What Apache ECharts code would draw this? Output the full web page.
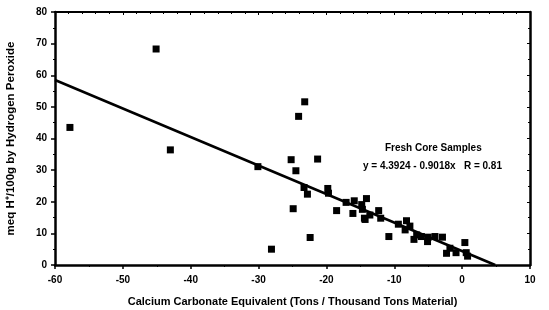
<!DOCTYPE html>
<html><head><meta charset="utf-8">
<script src="https://cdn.jsdelivr.net/npm/echarts@6/dist/echarts.min.js"></script>
<style>html,body{margin:0;padding:0;background:#fff}#c{width:549px;height:310px}</style>
</head><body><div id="c"></div>
<script>
// Sample points: [CaCO3 equivalent, meq H+/100g]
const xValues = [-57.8,-45.1,-43.0,-30.1,-28.1,-25.2,-24.9,-24.5,-24.1,-23.2,-23.3,-22.8,-22.4,-21.3,
  -19.8,-19.7,-18.5,-17.1,-16.1,-15.9,-14.8,-14.7,-14.1,-14.3,-14.4,-13.6,-12.3,-12.0,-10.8,-9.4,
  -8.2,-8.4,-7.7,-7.1,-6.7,-6.0,-5.1,-5.0,-4.0,-2.9,-2.3,-1.8,-0.9,0.4,0.6,0.8];
const yValues = [43.5,68.3,36.4,31.1,5.0,33.3,17.8,29.8,47.0,51.6,24.5,22.4,8.7,33.5,
  24.2,22.7,17.2,19.8,16.3,20.3,19.1,17.6,21.0,14.4,14.8,15.8,17.2,14.8,9.0,12.9,
  14.0,11.1,12.3,8.1,9.5,9.0,7.4,8.8,9.0,8.8,3.7,5.3,3.9,7.1,3.9,2.8];
const xTicks = [-60,-50,-40,-30,-20,-10,0,10];
const yTicks = [0,10,20,30,40,50,60,70,80];
const intercept = 4.3924, slope = -0.9018;
const fitLabel = 'y = 4.3924 - 0.9018x   R = 0.81';
const seriesName = 'Fresh Core Samples';

const pts = xValues.map((x,i)=>[x,yValues[i]]);
const xEnd = -intercept/slope;
const fit = [[-60, intercept + slope*-60],[xEnd, 0]];

const font = 'Liberation Sans, Arial, sans-serif';
const chart = echarts.init(document.getElementById('c'));
const mainLine = {show:true, onZero:false, lineStyle:{color:'#000', width:2.5}};
chart.setOption({
  animation:false,
  grid:{left:55,right:19,top:12,bottom:45, containLabel:false, outerBoundsMode:'none'},
  xAxis:[{
    type:'value', min:-60, max:10, interval:10,
    axisLine:mainLine,
    axisTick:{show:true, inside:false, length:4, lineStyle:{color:'#000',width:1.5}},
    minorTick:{show:true, splitNumber:2, length:2, lineStyle:{color:'#000'}},
    splitLine:{show:false},
    axisLabel:{color:'#000', fontFamily:font, fontWeight:'bold', fontSize:10, margin:10,
      formatter:v=>xTicks.includes(v)?String(v):''},
    name:'Calcium Carbonate Equivalent (Tons / Thousand Tons Material)',
    nameLocation:'middle', nameGap:31,
    nameTextStyle:{color:'#000', fontFamily:font, fontWeight:'bold', fontSize:11}
  },{
    type:'value', min:-60, max:10, interval:10, position:'top',
    axisLine:{show:true, onZero:false, lineStyle:{color:'#000', width:2}},
    axisTick:{show:true, inside:true, length:3, lineStyle:{color:'#000'}}, axisLabel:{show:false},
    minorTick:{show:true, splitNumber:5, length:2, lineStyle:{color:'#000'}}, splitLine:{show:false}
  }],
  yAxis:[{
    type:'value', min:0, max:80, interval:10,
    axisLine:mainLine,
    axisTick:{show:true, inside:false, length:4, lineStyle:{color:'#000',width:1.5}},
    minorTick:{show:true, splitNumber:2, length:2, lineStyle:{color:'#000'}},
    splitLine:{show:false},
    axisLabel:{color:'#000', fontFamily:font, fontWeight:'bold', fontSize:10, margin:8,
      formatter:v=>yTicks.includes(v)?String(v):''},
    name:'meq H\u207A/100g by Hydrogen Peroxide',
    nameLocation:'middle', nameGap:38, nameRotate:90,
    nameTextStyle:{color:'#000', fontFamily:font, fontWeight:'bold', fontSize:11.5}
  },{
    type:'value', min:0, max:80, interval:10, position:'right',
    axisLine:{show:true, onZero:false, lineStyle:{color:'#000', width:2.5}},
    axisTick:{show:true, inside:true, length:3, lineStyle:{color:'#000'}}, axisLabel:{show:false},
    minorTick:{show:true, splitNumber:2, length:2, lineStyle:{color:'#000'}}, splitLine:{show:false}
  }],
  series:[{
    name:seriesName, type:'scatter', data:pts, symbol:'rect', symbolSize:7,
    itemStyle:{color:'#000', opacity:1}
  },{
    type:'line', data:fit, symbol:'none', lineStyle:{color:'#000', width:2.5}, z:3
  }],
  graphic:[
    {type:'text', left:385, top:143, style:{text:seriesName, fill:'#000', font:'bold 10px '+font}},
    {type:'text', left:363, top:161, style:{text:fitLabel, fill:'#000', font:'bold 10px '+font}}
  ]
});
</script></body></html>
